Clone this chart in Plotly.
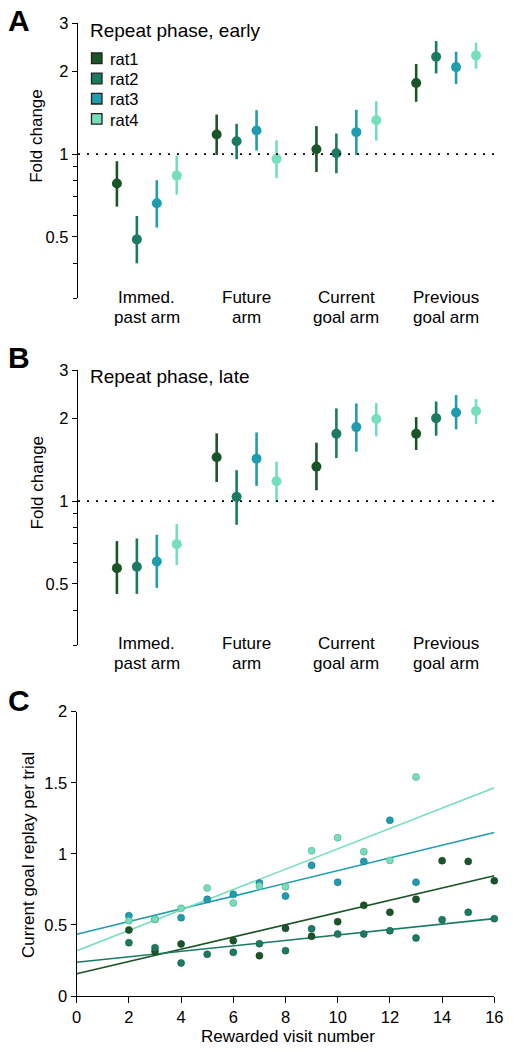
import math
import plotly.graph_objects as go

# ---------------- data ----------------
rats = ["rat1", "rat2", "rat3", "rat4"]
rat_colors = ["#1a5528", "#1b7a63", "#1f9cae", "#74dfb9"]
categories = ["Immed.\npast arm", "Future\narm", "Current\ngoal arm", "Previous\ngoal arm"]
rat_offsets = [-0.3, -0.1, 0.1, 0.3]

# Panel A: repeat phase, early (fold change, lower CI, upper CI) per rat, per category
early_mean = [
    [0.782, 1.179, 1.043, 1.814],
    [0.490, 1.115, 1.008, 2.262],
    [0.663, 1.219, 1.203, 2.074],
    [0.836, 0.962, 1.330, 2.287],
]
early_lo = [
    [0.645, 0.994, 0.862, 1.551],
    [0.401, 0.959, 0.853, 1.967],
    [0.541, 1.031, 0.994, 1.798],
    [0.713, 0.818, 1.121, 2.046],
]
early_hi = [
    [0.943, 1.394, 1.265, 2.127],
    [0.596, 1.290, 1.189, 2.579],
    [0.804, 1.446, 1.450, 2.359],
    [0.989, 1.124, 1.560, 2.544],
]

# Panel B: repeat phase, late
late_mean = [
    [0.571, 1.444, 1.336, 1.760],
    [0.578, 1.037, 1.760, 2.005],
    [0.604, 1.428, 1.860, 2.103],
    [0.698, 1.182, 1.989, 2.127],
]
late_lo = [
    [0.460, 1.175, 1.096, 1.535],
    [0.460, 0.821, 1.436, 1.731],
    [0.484, 1.137, 1.514, 1.825],
    [0.586, 0.992, 1.721, 1.908],
]
late_hi = [
    [0.716, 1.765, 1.632, 2.022],
    [0.732, 1.296, 2.175, 2.305],
    [0.755, 1.779, 2.267, 2.431],
    [0.825, 1.393, 2.274, 2.351],
]

# Panel C: current goal replay per trial vs rewarded visit number
rat1_visit = [2, 3, 4, 6, 7, 8, 9, 10, 11, 12, 13, 14, 15, 16]
rat1_replay = [0.464, 0.314, 0.366, 0.389, 0.284, 0.476, 0.420, 0.523, 0.638, 0.589, 0.680, 0.952, 0.947, 0.811]
rat2_visit = [2, 3, 4, 5, 6, 7, 8, 9, 10, 11, 12, 13, 14, 15, 16]
rat2_replay = [0.375, 0.340, 0.232, 0.293, 0.307, 0.368, 0.319, 0.473, 0.436, 0.436, 0.459, 0.408, 0.537, 0.589, 0.544]
rat3_visit = [2, 3, 4, 5, 6, 7, 8, 9, 10, 11, 12, 13]
rat3_replay = [0.565, 0.540, 0.551, 0.680, 0.715, 0.795, 0.703, 0.919, 0.800, 0.947, 1.236, 0.800]
rat4_visit = [2, 3, 4, 5, 6, 7, 8, 9, 10, 11, 12, 13]
rat4_replay = [0.530, 0.540, 0.617, 0.760, 0.654, 0.774, 0.769, 1.022, 1.114, 1.015, 0.954, 1.540]
fit_intercept = [0.157, 0.237, 0.434, 0.319]
fit_slope = [0.0431, 0.0192, 0.0448, 0.0716]
fit_x_range = [0, 16]

c_visits = [rat1_visit, rat2_visit, rat3_visit, rat4_visit]
c_replay = [rat1_replay, rat2_replay, rat3_replay, rat4_replay]

# ---------------- layout helpers ----------------
W, H = 513, 1050
FONT = "Liberation Sans, Arial, Helvetica, sans-serif"


def px(x):
    return x / W


def py(y):
    return 1 - y / H


def darker(hexc, f=0.75):
    h = hexc.lstrip("#")
    r, g, b = (int(h[i:i + 2], 16) for i in (0, 2, 4))
    return "rgb(%d,%d,%d)" % (r * f, g * f, b * f)


fig = go.Figure()

panels = [
    ("x", "y", early_mean, early_lo, early_hi),
    ("x2", "y2", late_mean, late_lo, late_hi),
]
for xa, ya, mean, lo, hi in panels:
    for r in range(4):
        xs = [i + rat_offsets[r] for i in range(len(categories))]
        fig.add_trace(go.Scatter(
            x=xs, y=mean[r], mode="markers", xaxis=xa, yaxis=ya,
            showlegend=False, cliponaxis=False,
            marker=dict(size=10, color=rat_colors[r], line=dict(width=0)),
            error_y=dict(type="data", symmetric=False,
                         array=[h - m for h, m in zip(hi[r], mean[r])],
                         arrayminus=[m - l for l, m in zip(lo[r], mean[r])],
                         color=rat_colors[r], thickness=2.6, width=0),
        ))

for r in range(4):
    fx = fit_x_range
    fy = [fit_intercept[r] + fit_slope[r] * v for v in fx]
    fig.add_trace(go.Scatter(x=fx, y=fy, mode="lines", xaxis="x3", yaxis="y3",
                             showlegend=False, line=dict(color=rat_colors[r], width=1.6)))
for r in range(4):
    fig.add_trace(go.Scatter(x=c_visits[r], y=c_replay[r], mode="markers", xaxis="x3", yaxis="y3",
                             showlegend=False, cliponaxis=False,
                             marker=dict(size=7, color=rat_colors[r],
                                         line=dict(width=0.6, color=darker(rat_colors[r])))))

tickfont = dict(family=FONT, size=16.5, color="black")
xdom_ab = [px(78), px(495)]
log_axis = dict(
    type="log", range=[math.log10(0.3), math.log10(3)],
    tickvals=[0.5, 1, 2, 3], ticktext=["0.5", "1", "2", "3"],
    ticks="outside", ticklen=5, tickwidth=1.3, tickcolor="black",
    showline=True, linecolor="black", linewidth=1.4, automargin=False,
    showgrid=False, zeroline=False, tickfont=tickfont,
    minor=dict(tickvals=[0.3, 0.4, 0.6, 0.7, 0.8, 0.9], ticks="outside", ticklen=4,
               tickwidth=1.3, tickcolor="black", showgrid=False),
)
hidden_x = dict(range=[-0.69, 3.49], showline=False, showticklabels=False, ticks="",
                showgrid=False, zeroline=False, automargin=False)

fig.update_layout(
    width=W, height=H, autosize=False, plot_bgcolor="white", paper_bgcolor="white",
    margin=dict(l=0, r=0, t=0, b=0, pad=0, autoexpand=False), showlegend=False,
    font=dict(family=FONT, color="black"),
    xaxis=dict(domain=xdom_ab, anchor="y", **hidden_x),
    yaxis=dict(domain=[py(298), py(23)], anchor="x", **log_axis),
    xaxis2=dict(domain=xdom_ab, anchor="y2", **hidden_x),
    yaxis2=dict(domain=[py(645), py(370)], anchor="x2", **log_axis),
    xaxis3=dict(domain=[px(76.7), px(494.3)], anchor="y3", range=[0, 16],
                tickvals=list(range(0, 17, 2)), ticks="outside", ticklen=6, tickwidth=1.3,
                tickcolor="black", showline=True, linecolor="black", linewidth=1.4,
                showgrid=False, zeroline=False, tickfont=tickfont, automargin=False),
    yaxis3=dict(domain=[py(996), py(711.7)], anchor="x3", range=[0, 2],
                tickvals=[0, 0.5, 1, 1.5, 2], ticktext=["0", "0.5", "1", "1.5", "2"],
                ticks="outside", ticklen=5, tickwidth=1.3, tickcolor="black",
                showline=True, linecolor="black", linewidth=1.4, automargin=False,
                showgrid=False, zeroline=False, tickfont=tickfont),
)

# dotted reference lines at fold change = 1
for xr, yr in (("x domain", "y"), ("x2 domain", "y2")):
    fig.add_shape(type="line", xref=xr, yref=yr, x0=0, x1=1, y0=1, y1=1,
                  line=dict(color="black", width=1.8, dash="2px,7px"))

ann = []
# panel letters
for letter, yc in (("A", 20.5), ("B", 358), ("C", 700)):
    ann.append(dict(text="<b>%s</b>" % letter, x=px(18.7), y=py(yc), xref="paper", yref="paper",
                    xanchor="center", yanchor="middle", showarrow=False,
                    font=dict(family=FONT, size=30, color="black")))
# panel titles
for txt, yc in (("Repeat phase, early", 30.7), ("Repeat phase, late", 376.3)):
    ann.append(dict(text=txt, x=px(87.5), y=py(yc), xref="paper", yref="paper",
                    xanchor="left", yanchor="middle", showarrow=False,
                    font=dict(family=FONT, size=19, color="black")))
# y-axis titles
for txt, xc, yc in (("Fold change", 37, 135.8), ("Fold change", 37, 482.5),
                    ("Current goal replay per trial", 28, 855)):
    ann.append(dict(text=txt, x=px(xc), y=py(yc), xref="paper", yref="paper", textangle=-90,
                    xanchor="center", yanchor="middle", showarrow=False,
                    font=dict(family=FONT, size=17, color="black")))
ann.append(dict(text="Rewarded visit number", x=px(288), y=py(1036.7), xref="paper", yref="paper",
                xanchor="center", yanchor="middle", showarrow=False,
                font=dict(family=FONT, size=17, color="black")))
# category labels
for xr, y1, y2 in (("x", 297.3, 317.2), ("x2", 643.3, 663.7)):
    for i, cat in enumerate(categories):
        l1, l2 = cat.split("\n")
        for txt, yy in ((l1, y1), (l2, y2)):
            ann.append(dict(text=txt, x=i, y=py(yy), xref=xr, yref="paper",
                            xanchor="center", yanchor="middle", showarrow=False,
                            font=dict(family=FONT, size=17, color="black")))
# legend (panel A)
for r, name in enumerate(rats):
    yc = 58.3 + 20.2 * r
    fig.add_shape(type="rect", xref="paper", yref="paper",
                  x0=px(91.5), x1=px(102), y0=py(yc + 5.3), y1=py(yc - 5.3),
                  fillcolor=rat_colors[r], line=dict(color="#222222", width=1.3))
    ann.append(dict(text=name, x=px(107.5), y=py(yc + 0.8), xref="paper", yref="paper",
                    xanchor="left", yanchor="middle", showarrow=False,
                    font=dict(family=FONT, size=16.5, color="black")))

fig.update_layout(annotations=ann)
fig.write_html(
    "out.html",
    config={"displayModeBar": False},
    post_script="document.body.style.margin='0';document.body.style.padding='0';"
                "document.documentElement.style.overflow='hidden';",
)
